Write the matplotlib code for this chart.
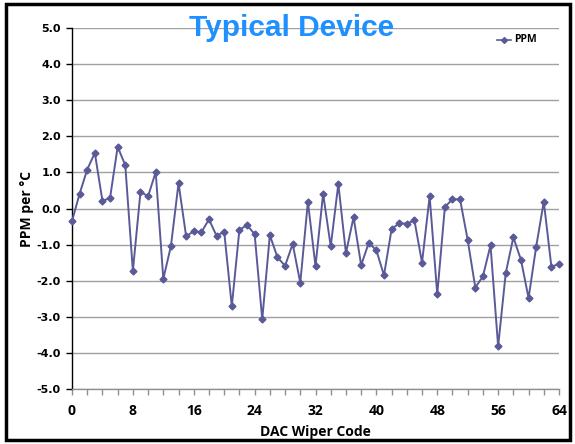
import numpy as np
import matplotlib.pyplot as plt
from matplotlib.patches import Rectangle
from matplotlib.ticker import MultipleLocator, FormatStrFormatter

# temperature coefficient of each wiper code
codes = np.arange(0, 65)
ppm = [-0.35, 0.41, 1.08, 1.54, 0.21, 0.29, 1.71, 1.20, -1.73, 0.46,
       0.34, 1.01, -1.95, -1.04, 0.70, -0.77, -0.63, -0.66, -0.30, -0.76,
       -0.64, -2.71, -0.59, -0.46, -0.71, -3.07, -0.74, -1.35, -1.59, -0.98,
       -2.06, 0.19, -1.60, 0.41, -1.05, 0.68, -1.24, -0.24, -1.57, -0.95,
       -1.16, -1.85, -0.57, -0.41, -0.42, -0.33, -1.50, 0.34, -2.38, 0.04,
       0.26, 0.25, -0.87, -2.19, -1.88, -1.02, -3.82, -1.79, -0.80, -1.42,
       -2.48, -1.06, 0.19, -1.61, -1.54]

W, H = 575, 444
fig = plt.figure(figsize=(W / 100, H / 100), dpi=100)
ax = fig.add_axes([72 / W, 1 - 389 / H, (559 - 72) / W, (389 - 28) / H])

line_col = '#5a5a98'
ax.plot(codes, ppm, color=line_col, lw=1.4, marker='D', ms=3.5,
        mec=line_col, mfc=line_col, clip_on=False, zorder=3)

ax.set_xlim(0, 64)
ax.set_ylim(-5, 5)
ax.xaxis.set_major_locator(MultipleLocator(8))
ax.xaxis.set_minor_locator(MultipleLocator(2))
ax.yaxis.set_major_locator(MultipleLocator(1))
ax.yaxis.set_major_formatter(FormatStrFormatter('%.1f'))

ax.grid(axis='y', color='#a0a0a0', lw=1.0)
ax.set_axisbelow(True)
for s in ('top', 'right'):
    ax.spines[s].set_visible(False)
ax.spines['left'].set_color('black')
ax.spines['left'].set_linewidth(1.0)
ax.spines['bottom'].set_color('#909090')
ax.spines['bottom'].set_linewidth(1.0)

ax.tick_params(axis='y', length=4, width=1, color='black', pad=4)
ax.tick_params(axis='x', which='both', length=4, width=1, color='#909090', pad=7)
for lab in ax.get_yticklabels():
    lab.set_fontfamily('DejaVu Sans')
    lab.set_fontweight('bold')
    lab.set_fontsize(8)
for lab in ax.get_xticklabels():
    lab.set_fontfamily('Open Sans')
    lab.set_fontweight('bold')
    lab.set_fontsize(10)

ax.set_xlabel('DAC Wiper Code', fontfamily='Open Sans', fontweight='bold',
              fontsize=10, labelpad=5)
ax.set_ylabel('PPM per °C', fontfamily='Open Sans', fontweight='bold',
              fontsize=10)
ax.yaxis.set_label_coords(-38 / (559 - 72), 0.5)

fig.text(292 / W, 1 - 28 / H, 'Typical Device', ha='center', va='center',
         fontfamily='Liberation Sans', fontweight='bold', fontsize=21.5,
         color='#1e90ff')

# legend entry
legend_line = plt.Line2D([497 / W, 504 / W, 511 / W], [1 - 40 / H] * 3,
                         transform=fig.transFigure, color=line_col,
                         lw=1.2, marker='D', ms=3, markevery=[1],
                         mfc=line_col, mec=line_col)
fig.lines.append(legend_line)
fig.text(514 / W, 1 - 40 / H, 'PPM', ha='left', va='center',
         fontfamily='Open Sans', fontweight='bold', fontsize=7.5)

# frame round the whole figure
fig.patches.append(Rectangle((6 / W, 4 / H), (570 - 6) / W, (440 - 4) / H,
                             transform=fig.transFigure, fill=False,
                             ec='black', lw=2.5))

fig.savefig('out.png', dpi=100)
